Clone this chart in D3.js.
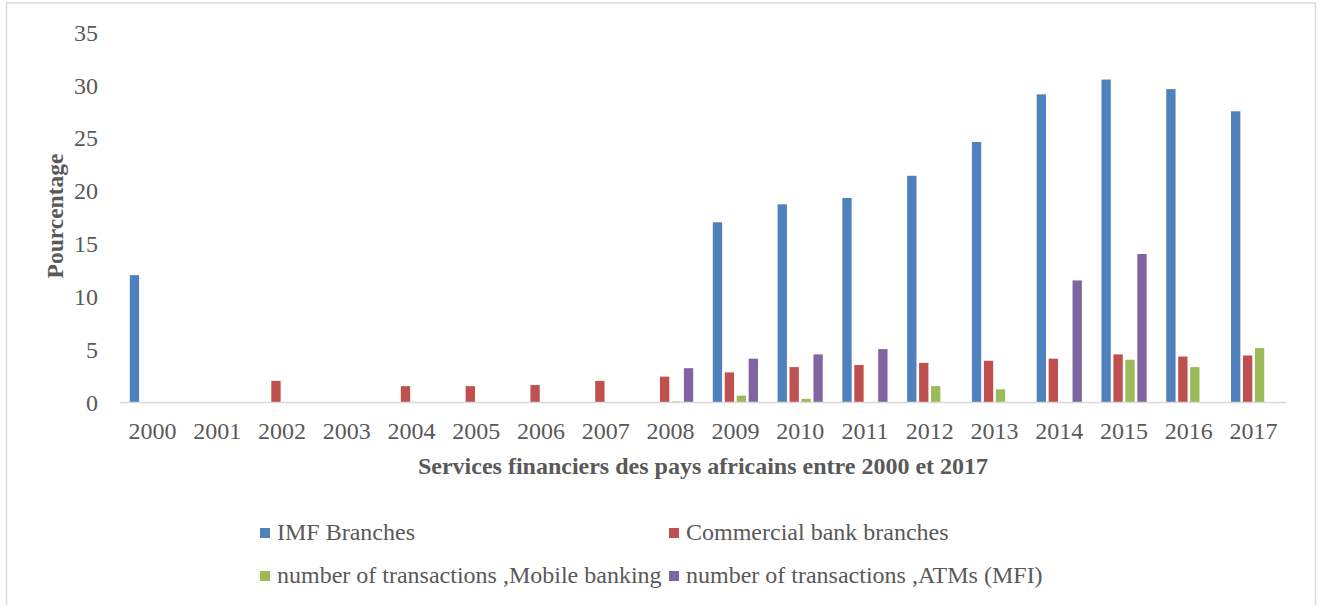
<!DOCTYPE html>
<html>
<head>
<meta charset="utf-8">
<script src="https://cdn.jsdelivr.net/npm/d3@7"></script>
<style>
  html, body { margin: 0; padding: 0; background: #ffffff; }
  svg { display: block; }
</style>
</head>
<body>
<svg id="chart" width="1322" height="605"></svg>
<script>
// Years on the category axis
const years = ["2000","2001","2002","2003","2004","2005","2006","2007","2008",
               "2009","2010","2011","2012","2013","2014","2015","2016","2017"];

// Series names (legend order)
const seriesNames = [
  "IMF Branches",
  "Commercial bank branches",
  "number of transactions ,Mobile banking",
  "number of transactions ,ATMs (MFI)"
];
const seriesColors = ["#4f81bd", "#c0504d", "#9bbb59", "#8064a2"];

// Values per year (null = no bar)
const imfBranches        = [12, null, null, null, null, null, null, null, null,
                            17.0, 18.7, 19.3, 21.4, 24.6, 29.1, 30.5, 29.6, 27.5];
const commercialBranches = [null, null, 2.0, null, 1.5, 1.5, 1.6, 2.0, 2.4,
                            2.8, 3.3, 3.5, 3.7, 3.9, 4.1, 4.5, 4.3, 4.4];
const mobileBanking      = [null, null, null, null, null, null, null, null, 0.05,
                            0.6, 0.3, null, 1.5, 1.2, null, 4.0, 3.3, 5.1];
const atmsMfi            = [null, null, null, null, null, null, null, null, 3.2,
                            4.1, 4.5, 5.0, null, null, 11.5, 14.0, null, null];

// Y axis ticks
const yTicks = [0, 5, 10, 15, 20, 25, 30, 35];

const seriesValues = [imfBranches, commercialBranches, mobileBanking, atmsMfi];

const FONT = '"Liberation Serif"';
const TEXT_COLOR = "#595959";

const svg = d3.select("#chart");

// Outer frame
svg.append("rect")
  .attr("x", 6.5).attr("y", 3)
  .attr("width", 1309).attr("height", 610)
  .attr("fill", "#ffffff")
  .attr("stroke", "#d9d9d9")
  .attr("stroke-width", 1.5);

const plot = { left: 120, right: 1286, top: 32, bottom: 402 };

const x = d3.scaleBand()
  .domain(years)
  .range([plot.left, plot.right])
  .paddingInner(0).paddingOuter(0);

const xSeries = d3.scaleBand()
  .domain(d3.range(seriesNames.length))
  .range([0, x.bandwidth()])
  .paddingInner(0.22)
  .paddingOuter(0.82);

const y = d3.scaleLinear()
  .domain([0, 35])
  .range([plot.bottom, plot.top]);

// Bars
const g = svg.append("g");
seriesValues.forEach((vals, si) => {
  g.selectAll(null)
    .data(years.map((yr, i) => ({ yr, v: vals[i] })).filter(d => d.v != null))
    .enter().append("rect")
    .attr("x", d => x(d.yr) + xSeries(si))
    .attr("width", xSeries.bandwidth())
    .attr("y", d => y(d.v))
    .attr("height", d => y(0) - y(d.v))
    .attr("fill", seriesColors[si]);
});

// X axis line
svg.append("line")
  .attr("x1", plot.left).attr("x2", plot.right)
  .attr("y1", y(0) + 0.5).attr("y2", y(0) + 0.5)
  .attr("stroke", "#d9d9d9").attr("stroke-width", 1.5);

// Category labels
const xg = svg.append("g")
  .attr("transform", `translate(0,${y(0)})`)
  .call(d3.axisBottom(x).tickSize(0).tickPadding(0));
xg.attr("font-family", null).attr("font-size", null);
xg.select(".domain").remove();
xg.selectAll("text")
  .attr("dy", null)
  .attr("y", 37)
  .attr("fill", TEXT_COLOR)
  .style("font-size", "24px")
  .style("font-family", FONT);

// Value labels
const yg = svg.append("g")
  .attr("transform", "translate(98,0)")
  .call(d3.axisLeft(y).tickValues(yTicks).tickSize(0).tickPadding(0));
yg.attr("font-family", null).attr("font-size", null);
yg.select(".domain").remove();
yg.selectAll("text")
  .attr("dy", "0.34em")
  .attr("x", 0)
  .attr("fill", TEXT_COLOR)
  .style("font-size", "24px")
  .style("font-family", FONT);

// Axis titles
svg.append("text")
  .attr("transform", `translate(63,${(plot.top + plot.bottom) / 2 - 1}) rotate(-90)`)
  .attr("text-anchor", "middle")
  .attr("fill", TEXT_COLOR)
  .style("font-family", FONT)
  .style("font-size", "23.5px")
  .style("font-weight", "bold")
  .text("Pourcentage");

svg.append("text")
  .attr("x", (plot.left + plot.right) / 2)
  .attr("y", 474)
  .attr("text-anchor", "middle")
  .attr("fill", TEXT_COLOR)
  .style("font-family", FONT)
  .style("font-size", "24px")
  .style("font-weight", "bold")
  .text("Services financiers des pays africains entre 2000 et 2017");

// Legend, two columns by two rows
const legendPos = [
  { x: 260, y: 528 },
  { x: 669, y: 528 },
  { x: 260, y: 571 },
  { x: 669, y: 571 }
];
const lg = svg.append("g");
seriesNames.forEach((name, i) => {
  const p = legendPos[i];
  lg.append("rect")
    .attr("x", p.x).attr("y", p.y)
    .attr("width", 10).attr("height", 10)
    .attr("fill", seriesColors[i]);
  lg.append("text")
    .attr("x", p.x + 17)
    .attr("y", p.y + 12)
    .attr("fill", TEXT_COLOR)
    .style("font-family", FONT)
    .style("font-size", "24px")
    .text(name);
});
</script>
</body>
</html>
